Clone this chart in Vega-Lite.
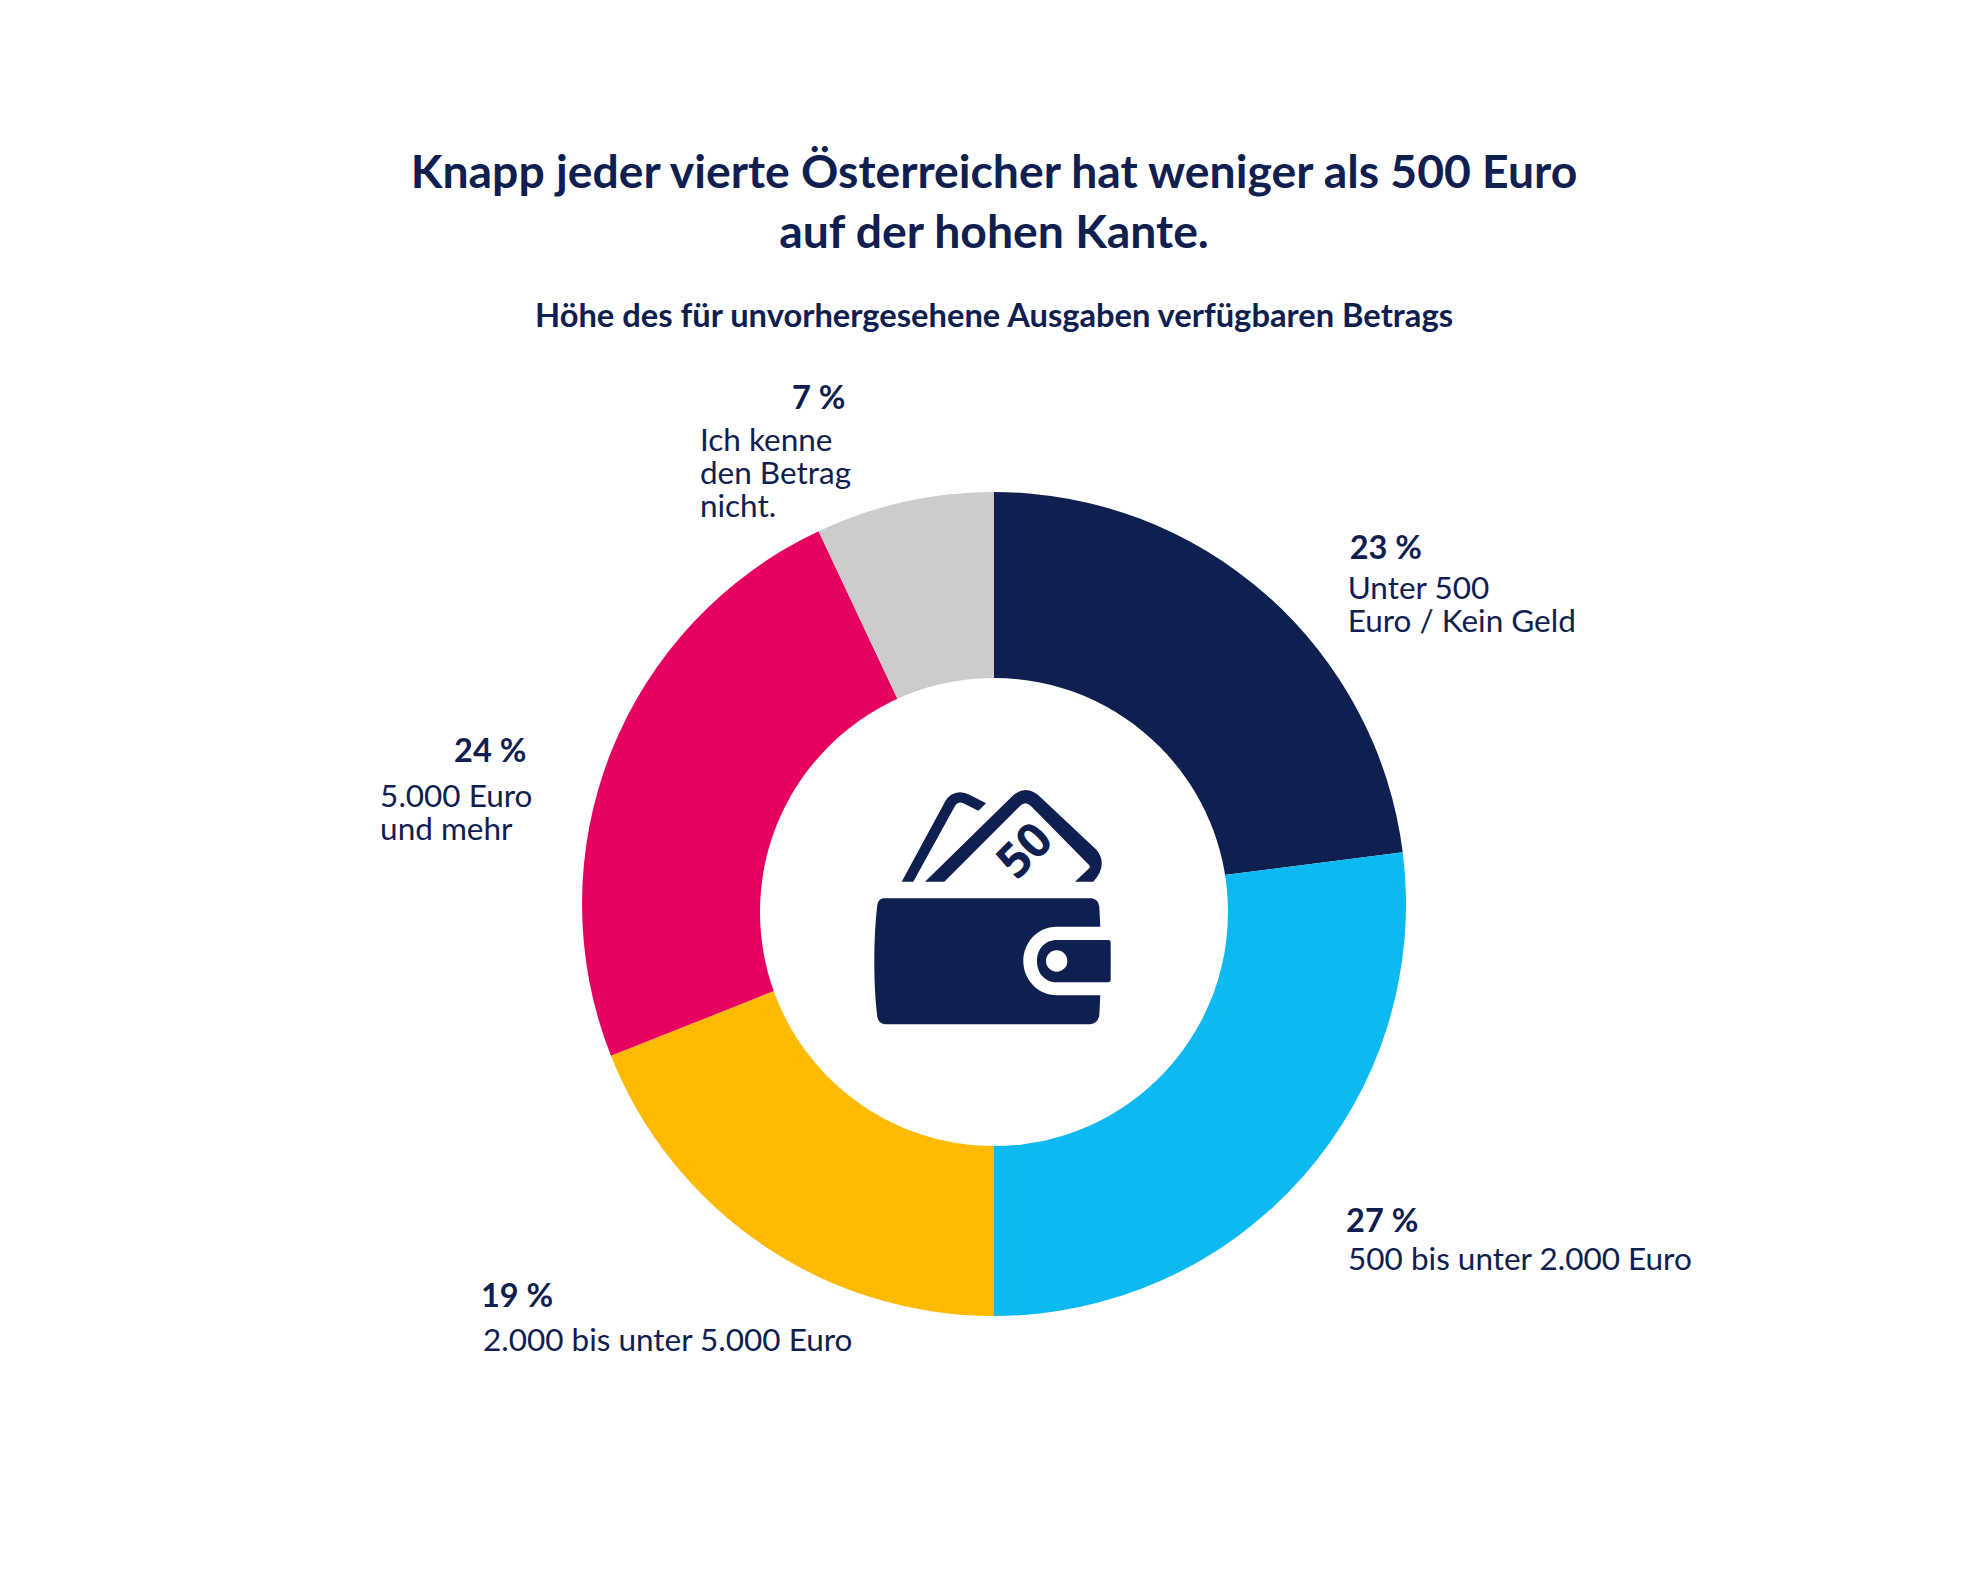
{
"$schema":"https://vega.github.io/schema/vega-lite/v6.json",
"width":1988,"height":1380,
"autosize":{"type":"none"},
"padding":{"left":0,"top":214,"right":0,"bottom":0},
"background":"white",
"config":{"view":{"stroke":null}},
"title":{"text":["Knapp jeder vierte Österreicher hat weniger als 500 Euro","auf der hohen Kante."],"subtitle":"Höhe des für unvorhergesehene Ausgaben verfügbaren Betrags","anchor":"middle","frame":"group","offset":-120,"font":"Lato","fontSize":46.3,"fontWeight":"bold","color":"#0F2050","lineHeight":60,"subtitleFont":"Lato","subtitleFontSize":32.7,"subtitleFontWeight":"bold","subtitleColor":"#0F2050","subtitlePadding":44},
"layer":[
{"data":{"values":[
{"cat":"a","value":23,"pct":"23 %","desc":"Unter 500\nEuro / Kein Geld","rank":1},
{"cat":"b","value":27,"pct":"27 %","desc":"500 bis unter 2.000 Euro","rank":2},
{"cat":"c","value":19,"pct":"19 %","desc":"2.000 bis unter 5.000 Euro","rank":3},
{"cat":"d","value":24,"pct":"24 %","desc":"5.000 Euro\nund mehr","rank":4},
{"cat":"e","value":7,"pct":"7 %","desc":"Ich kenne\nden Betrag\nnicht.","rank":5}
]},
"encoding":{"theta":{"field":"value","type":"quantitative","stack":true,"scale":{"domain":[0,100]}},"order":{"field":"rank","type":"ordinal"},"detail":{"field":"cat","type":"nominal"}},
"layer":[
{"mark":{"type":"arc","outerRadius":412,"innerRadius":0},"encoding":{"color":{"field":"cat","type":"nominal","legend":null,"scale":{"domain":["a","b","c","d","e"],"range":["#0F2050","#0CB9F0","#FDBA00","#E60060","#CCCCCC"]}}}},
{"mark":{"type":"text","radius":500,"dx":25,"dy":30,"align":"left","baseline":"alphabetic","font":"Lato","fontWeight":"bold","fontSize":32.5,"color":"#0F2050"},"encoding":{"text":{"condition":{"test":"datum.cat==='a'","field":"pct","type":"nominal"},"value":""}}},
{"mark":{"type":"text","radius":500,"dx":23,"dy":70,"align":"left","baseline":"alphabetic","lineBreak":"\n","lineHeight":33,"font":"Lato","fontSize":31.5,"color":"#0F2050"},"encoding":{"text":{"condition":{"test":"datum.cat==='a'","field":"desc","type":"nominal"},"value":""}}},
{"mark":{"type":"text","radius":500,"dx":-23,"dy":-2.5,"align":"left","baseline":"alphabetic","font":"Lato","fontWeight":"bold","fontSize":32.5,"color":"#0F2050"},"encoding":{"text":{"condition":{"test":"datum.cat==='b'","field":"pct","type":"nominal"},"value":""}}},
{"mark":{"type":"text","radius":500,"dx":-21,"dy":35.5,"align":"left","baseline":"alphabetic","lineBreak":"\n","lineHeight":33,"font":"Lato","fontSize":31.5,"color":"#0F2050"},"encoding":{"text":{"condition":{"test":"datum.cat==='b'","field":"desc","type":"nominal"},"value":""}}},
{"mark":{"type":"text","radius":500,"dx":-232,"dy":-10.6,"align":"left","baseline":"alphabetic","font":"Lato","fontWeight":"bold","fontSize":32.5,"color":"#0F2050"},"encoding":{"text":{"condition":{"test":"datum.cat==='c'","field":"pct","type":"nominal"},"value":""}}},
{"mark":{"type":"text","radius":500,"dx":-230,"dy":33.4,"align":"left","baseline":"alphabetic","lineBreak":"\n","lineHeight":33,"font":"Lato","fontSize":31.5,"color":"#0F2050"},"encoding":{"text":{"condition":{"test":"datum.cat==='c'","field":"desc","type":"nominal"},"value":""}}},
{"mark":{"type":"text","radius":500,"dx":-75,"dy":42,"align":"left","baseline":"alphabetic","font":"Lato","fontWeight":"bold","fontSize":32.5,"color":"#0F2050"},"encoding":{"text":{"condition":{"test":"datum.cat==='d'","field":"pct","type":"nominal"},"value":""}}},
{"mark":{"type":"text","radius":500,"dx":-149,"dy":87,"align":"left","baseline":"alphabetic","lineBreak":"\n","lineHeight":33,"font":"Lato","fontSize":31.5,"color":"#0F2050"},"encoding":{"text":{"condition":{"test":"datum.cat==='d'","field":"desc","type":"nominal"},"value":""}}},
{"mark":{"type":"text","radius":500,"dx":-93,"dy":-7,"align":"left","baseline":"alphabetic","font":"Lato","fontWeight":"bold","fontSize":32.5,"color":"#0F2050"},"encoding":{"text":{"condition":{"test":"datum.cat==='e'","field":"pct","type":"nominal"},"value":""}}},
{"mark":{"type":"text","radius":500,"dx":-185,"dy":35,"align":"left","baseline":"alphabetic","lineBreak":"\n","lineHeight":33,"font":"Lato","fontSize":31.5,"color":"#0F2050"},"encoding":{"text":{"condition":{"test":"datum.cat==='e'","field":"desc","type":"nominal"},"value":""}}}
]},
{"data":{"values":[{"part":"hole"}]},
"mark":{"type":"point","filled":true,"opacity":1,"size":4,"color":"#FFFFFF","shape":"M-234 8 A234 234 0 1 1 234 8 A234 234 0 1 1 -234 8 Z"},"encoding":{}},
{"data":{"values":[{"part":"wallet"}]},
"mark":{"type":"point","filled":true,"opacity":1,"size":4,"yOffset":1,"color":"#0F2050","shape":"M-110.7 -6.7 L97.7 -6.7 Q104.3 -5.7 105.3 1.7 L106.3 21.7 L62.7 21.7 C42.7 21.7 29.3 38.3 29.3 56 C29.3 75 44.3 90.3 62.7 90.3 L106.3 90.3 L105.3 110 Q104.3 118.3 96 119.3 L-109 119.3 Q-115.7 118.3 -116.7 111.7 C-120.7 81.7 -120.7 31.7 -116.7 0 Q-115.7 -6 -110.7 -6.7 Z M62.7 35 L114.3 35 Q116.7 35 116.7 37.7 L116.7 74.3 Q116.7 77.3 114.3 77.3 L62.7 77.3 C51 77.3 43 68.3 43 56 C43 44 51 35 62.7 35 Z M52 56 A10.7 10.7 0 1 0 73.4 56 A10.7 10.7 0 1 0 52 56 Z M-92.3 -23.3 L-49 -103.3 Q-44 -112.3 -34 -112.7 Q-29 -112.7 -24 -110 L-8 -101.7 L-15.7 -94.3 L-30.7 -101.7 Q-35.7 -104.3 -39 -99 L-80.7 -23.3 Z M-69 -23.3 L17.7 -108.3 Q31.7 -121.7 46 -108.3 L102.7 -55 Q114.3 -40 99.3 -23.3 L81 -23.3 L94.3 -36 Q97 -38 95 -40 L37.7 -98.3 Q31.7 -105 26 -99 L-49.7 -23.3 Z"},"encoding":{}},
{"data":{"values":[{"note":"50"}]},
"mark":{"type":"text","angle":-45,"dx":59.5,"dy":-14,"align":"center","baseline":"middle","font":"Open Sans","fontWeight":"bold","fontSize":48,"color":"#0F2050"},"encoding":{"text":{"field":"note","type":"nominal"}}}
]
}
